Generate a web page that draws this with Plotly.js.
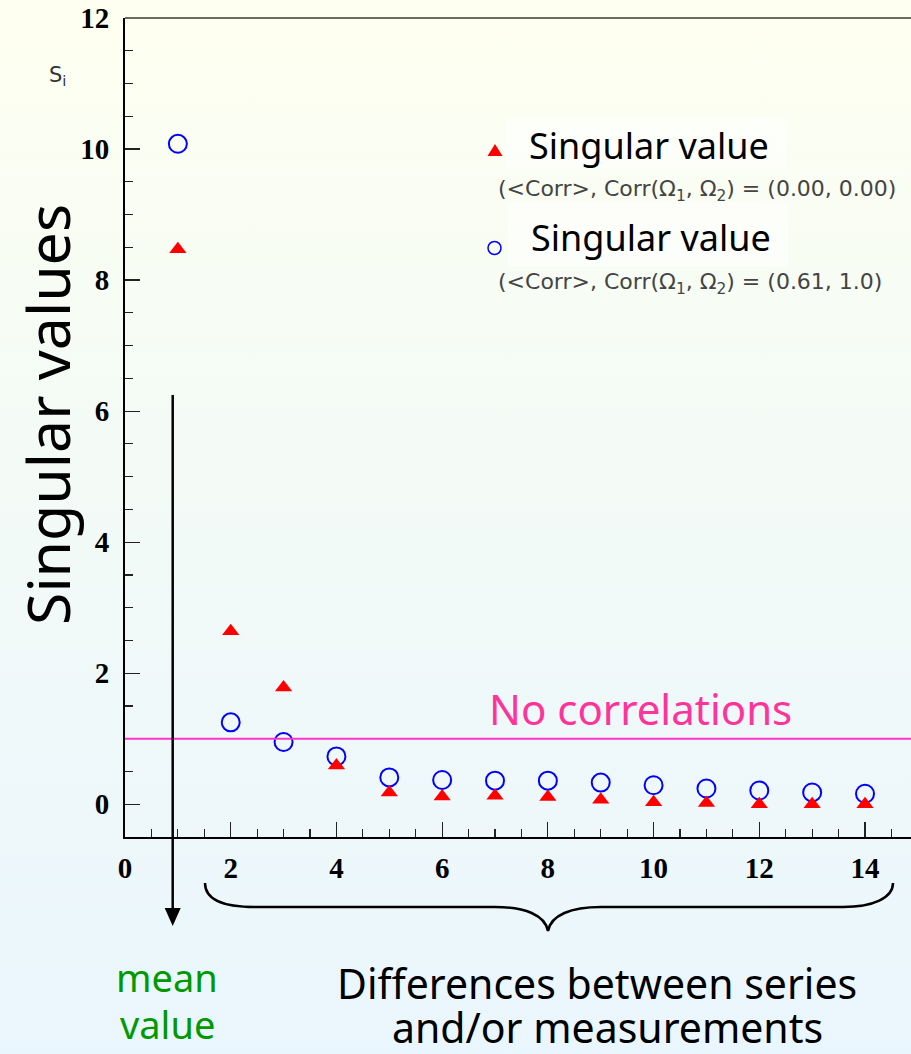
<!DOCTYPE html>
<html>
<head>
<meta charset="utf-8">
<script src="https://cdn.plot.ly/plotly-3.0.1.min.js"></script>
<style>
  html, body { margin: 0; padding: 0; width: 911px; height: 1054px; overflow: hidden;
    background: linear-gradient(to bottom, #fefff0 0%, #f4fbf6 40%, #eaf6fd 100%); }
  #chart { width: 911px; height: 1054px; }
</style>
</head>
<body>
<div id="chart"></div>
<script>
// ---- data ----
const indexValues = [1, 2, 3, 4, 5, 6, 7, 8, 9, 10, 11, 12, 13, 14];
const svUncorrelated = [8.47, 2.64, 1.78, 0.59, 0.18, 0.12, 0.13, 0.11, 0.07, 0.03, 0.02, 0.0, 0.0, 0.0];
const svCorrelated   = [10.08, 1.25, 0.95, 0.73, 0.41, 0.37, 0.36, 0.36, 0.33, 0.29, 0.24, 0.21, 0.18, 0.16];
const noCorrLevel = 1;
const xTickVals = [0, 2, 4, 6, 8, 10, 12, 14];
const yTickVals = [0, 2, 4, 6, 8, 10, 12];
const legendTitle = "Singular value";
const legendSub1 = "(&lt;Corr&gt;, Corr(Ω<sub>1</sub>, Ω<sub>2</sub>) = (0.00, 0.00)";
const legendSub2 = "(&lt;Corr&gt;, Corr(Ω<sub>1</sub>, Ω<sub>2</sub>) = (0.61, 1.0)";

// ---- layout geometry (pixels) ----
const W = 911, H = 1054;
const M = {l: 125, r: 0, t: 18, b: 217};
const PW = W - M.l - M.r, PH = H - M.t - M.b;
const px = x => (x - M.l) / PW;
const py = y => (H - M.b - y) / PH;
const P = (x, y) => px(x).toFixed(5) + ',' + py(y).toFixed(5);

const comic = "Comic Sans MS, Noto Sans, sans-serif";
const tickFont = () => ({family: "Liberation Serif, serif", size: 29, color: "#000", weight: 700});

const traces = [
  {x: indexValues, y: svCorrelated, type: 'scatter', mode: 'markers', name: 'corr',
   marker: {symbol: 'circle-open', size: 18, color: '#0000ff', line: {width: 2, color: '#0000ff'}},
   showlegend: false, hoverinfo: 'x+y'},
  {x: indexValues, y: svUncorrelated, type: 'scatter', mode: 'markers', name: 'uncorr',
   marker: {symbol: 'triangle-up', size: 15, color: '#ff0000', line: {width: 0}},
   showlegend: false, hoverinfo: 'x+y'}
];

const bracePath = 'M' + P(205, 883) + ' C' + P(205, 900) + ' ' + P(225, 907) + ' ' + P(255, 907) +
  ' L' + P(495, 907) + ' C' + P(525, 907) + ' ' + P(545, 915) + ' ' + P(548, 931) +
  ' C' + P(551, 915) + ' ' + P(571, 907) + ' ' + P(601, 907) +
  ' L' + P(843, 907) + ' C' + P(873, 907) + ' ' + P(893, 898) + ' ' + P(893, 883);

const shapes = [
  {type: 'line', xref: 'paper', yref: 'paper', x0: 0, x1: 1, y0: 1, y1: 1, line: {color: '#6b6b5e', width: 2}},
  {type: 'line', xref: 'paper', yref: 'y', x0: 0, x1: 1, y0: noCorrLevel, y1: noCorrLevel, line: {color: '#ff33cc', width: 2}},
  {type: 'rect', xref: 'paper', yref: 'paper', x0: px(505), x1: px(786), y0: py(168), y1: py(118), fillcolor: 'rgba(255,255,255,0.6)', line: {width: 0}},
  {type: 'rect', xref: 'paper', yref: 'paper', x0: px(508), x1: px(788), y0: py(267), y1: py(203), fillcolor: 'rgba(255,255,255,0.6)', line: {width: 0}},
  {type: 'path', xref: 'paper', yref: 'paper', path: 'M' + P(487.5, 156) + ' L' + P(502.5, 156) + ' L' + P(495, 144) + ' Z', fillcolor: '#ff0000', line: {width: 0}},
  {type: 'circle', xref: 'paper', yref: 'paper', x0: px(488), x1: px(501), y0: py(254.5), y1: py(241.5), line: {color: '#0000ff', width: 1.5}},
  {type: 'line', xref: 'paper', yref: 'paper', x0: px(172.7), x1: px(172.7), y0: py(395), y1: py(910), line: {color: '#000', width: 2.5}},
  {type: 'path', xref: 'paper', yref: 'paper', path: 'M' + P(164.7, 908) + ' L' + P(180.7, 908) + ' L' + P(172.7, 926) + ' Z', fillcolor: '#000', line: {width: 0}},
  {type: 'path', xref: 'paper', yref: 'paper', path: bracePath, line: {color: '#000', width: 2.5}}
];

function note(text, x, y, font, xanchor, extra) {
  return Object.assign({text: text, xref: 'paper', yref: 'paper', x: px(x), y: py(y),
    xanchor: xanchor || 'center', yanchor: 'middle', showarrow: false, font: font, borderpad: 0}, extra || {});
}

const annotations = [
  note('Singular values', 47, 415, {family: comic, size: 59, color: '#000'}, 'center', {textangle: -90}),
  note('S<sub>i</sub>', 48, 76, {family: 'DejaVu Sans, sans-serif', size: 21, color: '#333'}, 'left'),
  note(legendTitle, 528, 145, {family: comic, size: 36, color: '#000'}, 'left'),
  note(legendSub1, 497, 190, {family: 'DejaVu Sans, sans-serif', size: 22, color: '#444'}, 'left'),
  note(legendTitle, 530, 237, {family: comic, size: 36, color: '#000'}, 'left'),
  note(legendSub2, 497, 284, {family: 'DejaVu Sans, sans-serif', size: 22, color: '#444'}, 'left'),
  note('No correlations', 640, 708, {family: comic, size: 42, color: '#ff3399'}),
  note('mean', 167, 977, {family: comic, size: 38, color: '#009900'}),
  note('value', 167, 1024, {family: comic, size: 38, color: '#009900'}),
  note('Differences between series', 597, 983, {family: comic, size: 41, color: '#000'}),
  note('and/or measurements', 607, 1027, {family: comic, size: 41, color: '#000'})
];

const layout = {
  width: W, height: H,
  margin: M,
  paper_bgcolor: 'rgba(0,0,0,0)', plot_bgcolor: 'rgba(0,0,0,0)',
  showlegend: false,
  xaxis: {
    range: [0, (W - M.l) / (786 / 14.87)], fixedrange: true,
    tickmode: 'array', tickvals: xTickVals, ticktext: xTickVals.map(String),
    ticks: 'inside', ticklen: 15, tickwidth: 1.2, tickcolor: '#222',
    minor: {dtick: 0.5, tick0: 0, ticks: 'inside', ticklen: 8, tickwidth: 1.2, tickcolor: '#222', showgrid: false},
    showline: true, linecolor: '#000', linewidth: 2,
    showgrid: false, zeroline: false,
    tickfont: tickFont(), ticklabelstandoff: 4
  },
  yaxis: {
    range: [-0.5, 12], fixedrange: true,
    tickmode: 'array', tickvals: yTickVals, ticktext: yTickVals.map(String),
    ticks: 'inside', ticklen: 15, tickwidth: 1.2, tickcolor: '#222',
    minor: {dtick: 0.5, tick0: 0, ticks: 'inside', ticklen: 8, tickwidth: 1.2, tickcolor: '#222', showgrid: false},
    showline: true, linecolor: '#000', linewidth: 2,
    showgrid: false, zeroline: false,
    tickfont: tickFont(), ticklabelstandoff: 8
  },
  shapes: shapes,
  annotations: annotations
};

Plotly.newPlot('chart', traces, layout, {staticPlot: true, displayModeBar: false});
</script>
</body>
</html>
